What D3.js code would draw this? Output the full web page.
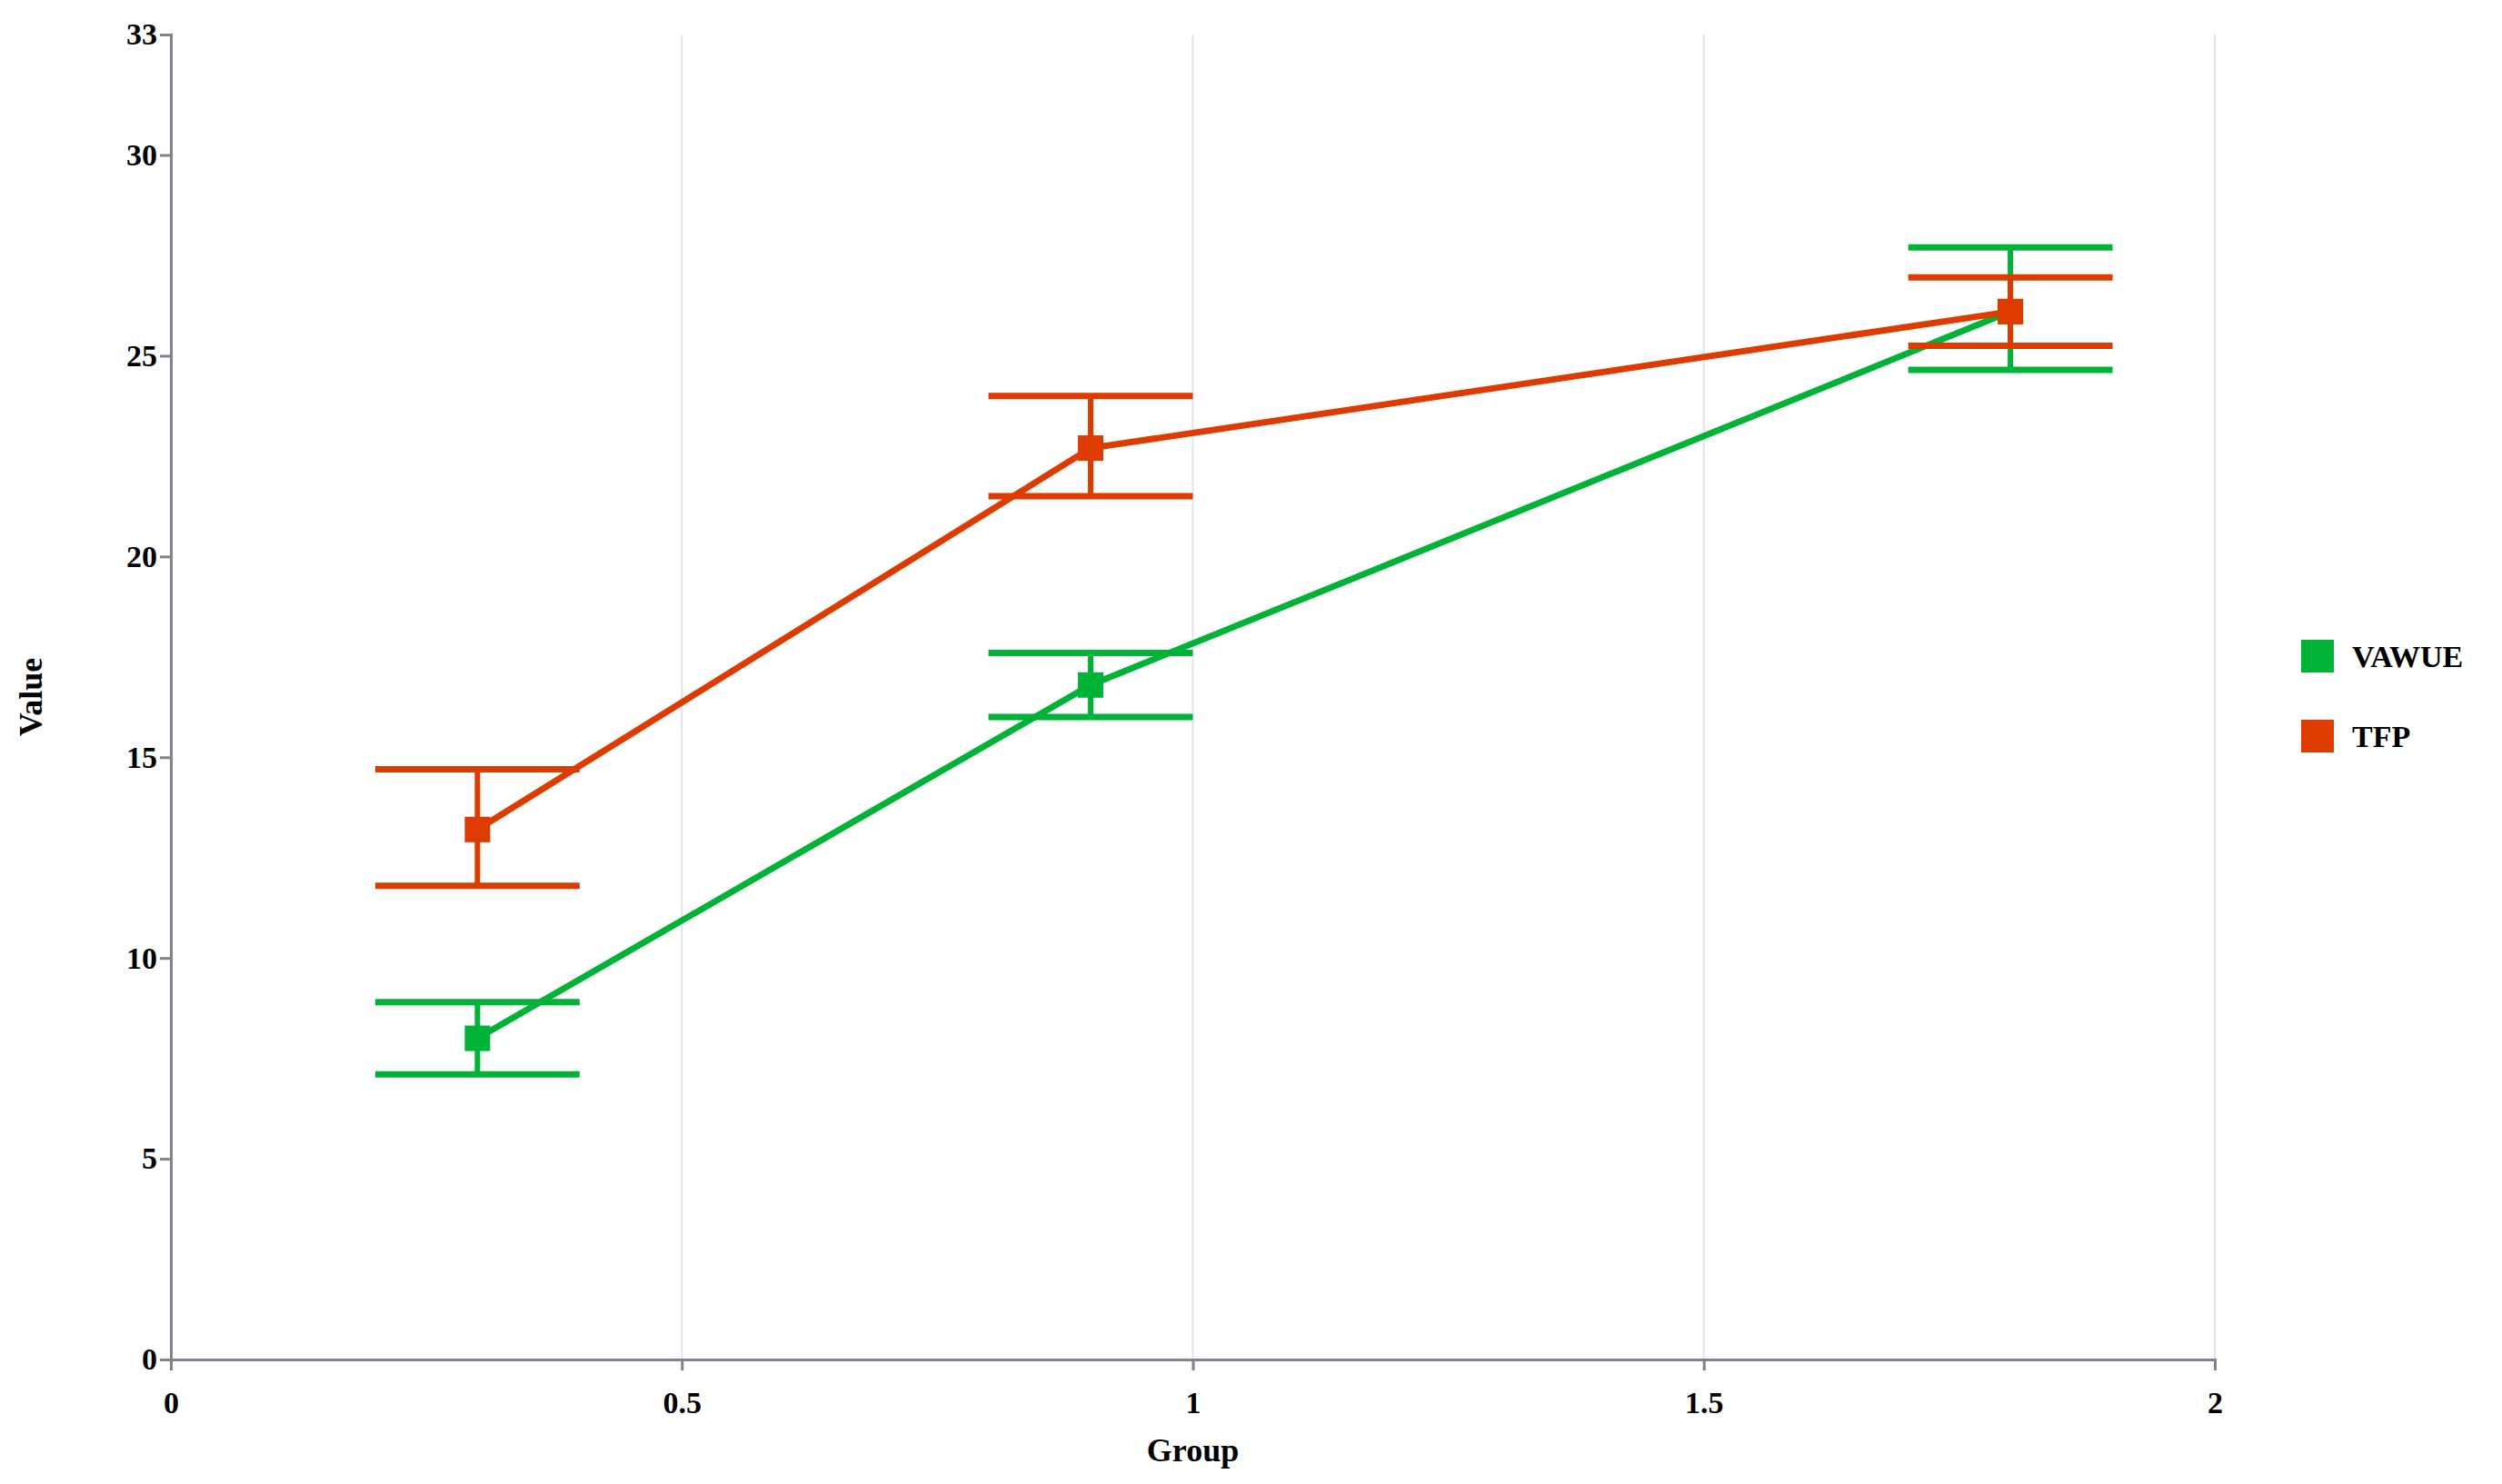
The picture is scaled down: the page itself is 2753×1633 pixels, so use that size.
<!DOCTYPE html>
<html><head><meta charset="utf-8">
<script src="https://cdn.jsdelivr.net/npm/d3@7"></script>
<style>body{margin:0;background:#fff}text{font-family:"Liberation Serif","Times New Roman",serif;font-weight:bold}</style>
</head><body><svg id="c" width="2753" height="1633"></svg>
<script>
const groups=[0.3,0.9,1.8];
const vawue=[8.0,16.8,26.1], vawueLo=[7.1,16.0,24.65], vawueHi=[8.9,17.6,27.7];
const tfp=[13.2,22.7,26.1], tfpLo=[11.8,21.5,25.25], tfpHi=[14.7,24.0,26.95];
const xTicks=[0,0.5,1,1.5,2], yTicks=[0,5,10,15,20,25,30,33];
const names=["VAWUE","TFP"], colors=["#00b336","#dd3b00"];
const svg=d3.select("#c");
const x=d3.scaleLinear().domain([0,2]).range([188,2437]);
const y=d3.scaleLinear().domain([0,33]).range([1496,38]);
svg.append("g").selectAll("line").data(xTicks.slice(1)).join("line")
 .attr("x1",d=>x(d)).attr("x2",d=>x(d)).attr("y1",y(33)).attr("y2",y(0))
 .attr("stroke","#e3e4f0").attr("stroke-width",2);
const xa=svg.append("g").attr("transform",`translate(0,${y(0)})`).call(d3.axisBottom(x).tickValues(xTicks).tickFormat(d3.format("")).tickSize(12));
const ya=svg.append("g").attr("transform",`translate(${x(0)},0)`).call(d3.axisLeft(y).tickValues(yTicks).tickSize(12));
[xa,ya].forEach(a=>{a.selectAll("path,line").attr("stroke","#80838e").attr("stroke-width",3);a.selectAll("text").attr("font-size",34).attr("fill","#000").style("font-family","Liberation Serif");});
xa.selectAll("text").attr("dy","1.3em");
svg.append("text").attr("x",(x(0)+x(2))/2).attr("y",1608).attr("text-anchor","middle").attr("font-size",36).text("Group");
svg.append("text").attr("transform",`translate(46,${y(16.5)}) rotate(-90)`).attr("text-anchor","middle").attr("font-size",36).text("Value");
const series=[[vawue,vawueLo,vawueHi],[tfp,tfpLo,tfpHi]];
series.forEach(([v,lo,hi],i)=>{
 const g=svg.append("g"), c=colors[i];
 const pts=groups.map((gx,j)=>({x:gx,v:v[j],lo:lo[j],hi:hi[j]}));
 g.append("path").datum(pts).attr("fill","none").attr("stroke",c).attr("stroke-width",7)
  .attr("d",d3.line().x(d=>x(d.x)).y(d=>y(d.v)));
 g.selectAll(".v").data(pts).join("line").attr("x1",d=>x(d.x)).attr("x2",d=>x(d.x)).attr("y1",d=>y(d.lo)).attr("y2",d=>y(d.hi)).attr("stroke",c).attr("stroke-width",6);
 ["lo","hi"].forEach(k=>g.selectAll(".c"+k).data(pts).join("line").attr("x1",d=>x(d.x-0.1)).attr("x2",d=>x(d.x+0.1)).attr("y1",d=>y(d[k])).attr("y2",d=>y(d[k])).attr("stroke",c).attr("stroke-width",7));
 g.selectAll("rect").data(pts).join("rect").attr("x",d=>x(d.x)-14).attr("y",d=>y(d.v)-14).attr("width",28).attr("height",28).attr("fill",c);
 svg.append("rect").attr("x",2532).attr("y",[704,792][i]).attr("width",36).attr("height",36).attr("fill",c);
 svg.append("text").attr("x",2588).attr("y",[722,810][i]).attr("dy","0.35em").attr("font-size",34).text(names[i]);
});
</script></body></html>
